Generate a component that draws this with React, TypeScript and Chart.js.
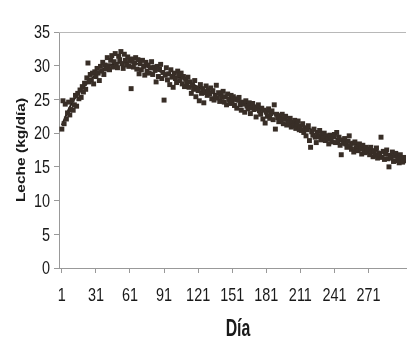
import React, { useEffect, useRef } from "react";
import { Chart, registerables } from "chart.js";

Chart.register(...registerables);

// Daily milk yield (kg/day), day 1 .. 305
const milk: number[] = [
  20.6, 24.8, 21.4, 24.3, 22.1, 23.0, 24.6, 22.7, 23.5, 24.9,
  23.4, 24.2, 25.6, 24.0, 25.9, 25.1, 26.4, 25.3, 26.9, 26.1,
  27.4, 26.5, 28.2, 30.4, 27.6, 28.7, 27.9, 28.9, 27.3, 29.1,
  28.4, 29.6, 28.9, 27.8, 29.9, 29.2, 30.5, 28.7, 30.1, 29.5,
  31.2, 30.0, 29.4, 30.8, 31.5, 29.8, 30.6, 31.8, 30.2, 29.7,
  31.4, 30.9, 32.1, 30.3, 29.6, 31.7, 30.8, 30.1, 31.3, 29.9,
  30.7, 26.6, 31.0, 29.8, 30.4, 31.2, 29.5, 30.9, 28.8, 30.3,
  29.4, 30.8, 29.9, 28.6, 30.5, 29.2, 30.1, 28.9, 29.7, 30.6,
  28.7, 29.8, 29.3, 27.6, 29.9, 28.4, 29.5, 30.2, 28.1, 29.0,
  24.9, 28.6, 29.7, 27.9, 28.8, 27.2, 29.4, 28.3, 26.8, 28.9,
  28.1, 27.5, 29.2, 28.6, 27.8, 28.9, 27.3, 28.4, 26.9, 28.0,
  27.4, 28.3, 26.8, 27.6, 25.9, 27.1, 26.5, 27.8, 25.4, 26.7,
  26.3, 24.8, 27.2, 25.9, 26.6, 24.5, 26.0, 27.0, 25.6, 26.4,
  25.8, 26.7, 25.1, 26.3, 24.9, 25.5, 27.1, 25.2, 26.0, 24.7,
  25.9, 25.3, 26.2, 24.6, 25.4, 24.2, 25.8, 25.0, 24.4, 25.6,
  24.8, 25.4, 24.1, 25.1, 23.7, 24.9, 25.3, 24.2, 23.4, 24.6,
  24.3, 23.1, 24.8, 24.0, 23.6, 24.5, 22.9, 23.8, 24.4, 23.5,
  23.9, 22.4, 23.6, 24.2, 23.3, 22.8, 23.7, 22.1, 23.4, 21.5,
  23.1, 22.5, 23.6, 22.2, 22.9, 23.3, 22.0, 24.2, 20.6, 22.8,
  22.3, 21.7, 22.6, 21.9, 22.8, 21.4, 22.1, 22.5, 21.2, 21.8,
  21.5, 22.2, 20.9, 21.6, 21.1, 21.9, 20.7, 21.3, 21.8, 20.5,
  21.0, 20.4, 21.4, 20.1, 20.8, 19.6, 20.5, 21.1, 18.9, 17.9,
  20.2, 19.7, 20.6, 19.4, 18.6, 20.1, 19.5, 20.4, 19.0, 19.8,
  19.3, 20.0, 18.9, 19.6, 19.1, 18.4, 19.7, 19.2, 18.7, 19.5,
  19.8, 18.6, 20.1, 18.9, 19.4, 18.2, 16.8, 19.0, 18.5, 19.2,
  18.4, 17.9, 18.8, 19.6, 18.1, 17.6, 18.5, 17.2, 18.7, 17.8,
  18.0, 17.4, 18.4, 17.7, 16.9, 18.2, 17.5, 17.1, 17.9, 17.3,
  17.6, 16.8, 17.9, 17.2, 16.5, 17.4, 16.7, 17.8, 16.3, 17.0,
  16.8, 19.4, 16.4, 17.3, 16.1, 16.9, 17.5, 16.2, 15.0, 16.7,
  16.3, 17.2, 15.8, 16.6, 17.0, 15.9, 16.4, 15.6, 16.8, 16.1,
  15.7, 16.4, 15.9, 16.2, 15.5,
];

// Fitted lactation curve
const curveDays: number[] = [1, 10, 20, 30, 40, 50, 60, 70, 80, 90, 100, 110, 120, 130, 140, 150, 160, 170, 180, 190, 200, 210, 220, 230, 240, 250, 260, 270, 280, 290, 300, 305];
const curveVals: number[] = [21.2, 24.5, 26.8, 28.5, 29.8, 30.4, 30.5, 30.2, 29.6, 29.0, 28.5, 27.9, 26.9, 26.2, 25.6, 25.0, 24.5, 24.0, 23.4, 22.7, 22.0, 21.3, 20.6, 20.0, 19.4, 18.8, 18.3, 17.8, 17.3, 16.8, 16.3, 16.1];

const xTickLabels: number[] = [1, 31, 61, 91, 121, 151, 181, 211, 241, 271];
const yTickLabels: number[] = [0, 5, 10, 15, 20, 25, 30, 35];
const xTitle = "Día";
const yTitle = "Leche (kg/día)";

const FAM = "'Liberation Sans', Arial, sans-serif";

// top frame line
const topLine = {
  id: "topLine",
  afterDraw(chart: any) {
    const { ctx, chartArea } = chart;
    ctx.save();
    ctx.strokeStyle = "#b8b8b8";
    ctx.lineWidth = 1;
    ctx.beginPath();
    ctx.moveTo(chartArea.left, chartArea.top + 0.5);
    ctx.lineTo(chartArea.right, chartArea.top + 0.5);
    ctx.stroke();
    ctx.restore();
  },
};

// condensed axis labels and titles (the original uses a narrow typeface)
const narrowLabels = {
  id: "narrowLabels",
  afterDraw(chart: any) {
    const { ctx } = chart;
    const xs = chart.scales.x;
    const ys = chart.scales.y;
    ctx.save();
    ctx.fillStyle = "#1a1a1a";
    ctx.textBaseline = "middle";
    ctx.font = `19px ${FAM}`;
    ctx.textAlign = "right";
    for (const v of yTickLabels) {
      const py = ys.getPixelForValue(v);
      ctx.save();
      ctx.translate(50, py + 1);
      ctx.scale(0.76, 1);
      ctx.fillText(String(v), 0, 0);
      ctx.restore();
    }
    ctx.textAlign = "center";
    for (const v of xTickLabels) {
      const px = xs.getPixelForValue(v);
      ctx.save();
      ctx.translate(px, 296);
      ctx.scale(0.76, 1);
      ctx.fillText(String(v), 0, 0);
      ctx.restore();
    }
    ctx.font = `bold 24px ${FAM}`;
    ctx.save();
    ctx.translate(238, 329);
    ctx.scale(0.66, 1);
    ctx.fillText(xTitle, 0, 0);
    ctx.restore();
    ctx.font = `bold 12.5px ${FAM}`;
    ctx.save();
    ctx.translate(22, 150);
    ctx.rotate(-Math.PI / 2);
    ctx.scale(1.24, 1);
    ctx.fillText(yTitle, 0, 0);
    ctx.restore();
    ctx.restore();
  },
};

export default function App() {
  const ref = useRef<HTMLCanvasElement | null>(null);
  useEffect(() => {
    if (!ref.current) return;
    const points = milk.map((v, i) => ({ x: i + 1, y: v }));
    const curve = curveDays.map((d, i) => ({ x: d, y: curveVals[i] }));
    const chart = new Chart(ref.current, {
      type: "scatter",
      data: {
        datasets: [
          {
            label: "Leche",
            data: points,
            pointStyle: "rect",
            pointRadius: 3.5,
            pointBorderWidth: 0,
            backgroundColor: "#382e27",
            borderColor: "#382e27",
            showLine: false,
          },
          {
            label: "Curva",
            data: curve,
            showLine: true,
            pointRadius: 0,
            borderColor: "#2a211b",
            borderWidth: 2,
            tension: 0.4,
          },
        ],
      },
      plugins: [topLine, narrowLabels],
      options: {
        animation: false,
        responsive: false,
        maintainAspectRatio: false,
        layout: { padding: { top: 32, right: 0, left: 0, bottom: 0 } },
        plugins: { legend: { display: false }, tooltip: { enabled: false } },
        scales: {
          x: {
            type: "linear",
            min: -1.5,
            max: 304,
            afterBuildTicks: (s: any) => {
              s.ticks = xTickLabels.map((v) => ({ value: v }));
            },
            afterFit: (s: any) => {
              s.height = 72;
            },
            grid: { drawOnChartArea: false, tickLength: 5, color: "#999" },
            border: { color: "#999" },
            ticks: { display: false },
            title: { display: false },
          },
          y: {
            min: 0,
            max: 35,
            afterBuildTicks: (s: any) => {
              s.ticks = yTickLabels.map((v) => ({ value: v }));
            },
            afterFit: (s: any) => {
              s.width = 59;
            },
            grid: { drawOnChartArea: false, tickLength: 5, color: "#999" },
            border: { color: "#999" },
            ticks: { display: false },
            title: { display: false },
          },
        },
      },
    });
    return () => chart.destroy();
  }, []);
  return (
    <div style={{ position: "fixed", left: 0, top: 0, width: 410, height: 340, background: "#fff" }}>
      <canvas ref={ref} width={410} height={340} style={{ width: 410, height: 340 }} />
    </div>
  );
}
